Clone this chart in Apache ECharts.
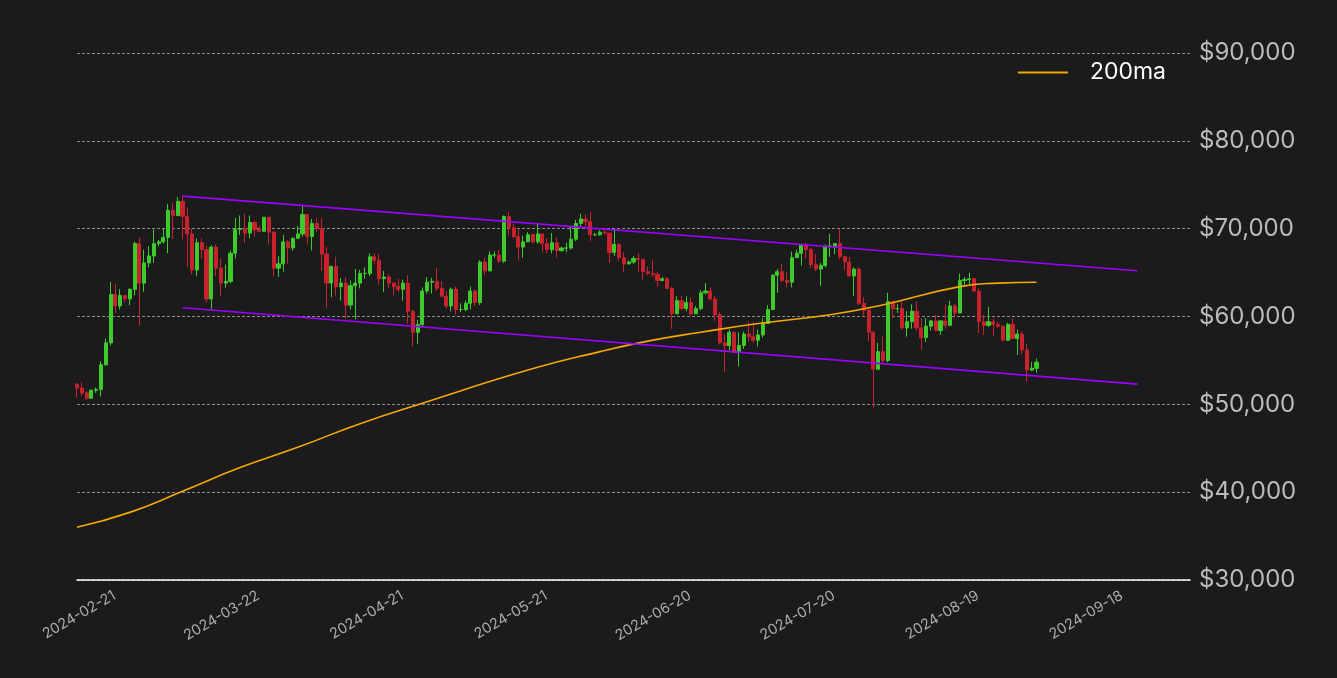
<!DOCTYPE html>
<html><head><meta charset="utf-8">
<script src="https://cdn.jsdelivr.net/npm/echarts@6/dist/echarts.min.js"></script>
<style>html,body{margin:0;background:#1b1b1b}#c{width:1337px;height:678px}</style>
</head><body><div id="c"></div>
<script>
const startDate = '2024-02-14';
const closes = [51.85,51.3,50.7,51.6,51.7,54.5,57.0,62.5,61.2,
62.4,62.0,63.1,68.3,63.8,66.1,66.9,68.3,68.5,69.0,72.1,71.5,73.1,71.4,69.4,65.3,68.4,67.6,62.0,67.9,65.5,63.8,64.0,67.2,69.9,70.0,69.5,70.7,69.9,69.7,71.3,
69.6,65.5,66.0,68.5,67.8,68.9,69.4,71.6,69.1,70.6,70.0,67.1,63.8,65.7,63.4,63.8,61.3,63.5,63.8,64.9,64.9,66.8,66.4,64.3,64.5,63.8,63.4,63.1,63.8,60.6,
58.2,59.1,62.9,63.9,64.0,63.2,62.3,61.2,63.1,60.8,60.8,61.5,62.9,61.6,66.2,65.2,67.0,67.0,66.3,71.4,70.1,69.1,67.9,68.5,69.3,68.5,69.4,68.3,67.6,68.4,67.5,
67.8,67.8,68.8,70.6,71.1,70.8,69.3,69.3,69.6,69.5,67.3,68.2,66.7,66.0,66.2,66.6,66.5,65.1,64.9,64.8,64.1,64.3,63.2,60.3,61.8,60.9,61.6,60.3,60.9,62.7,
62.9,62.0,60.2,57.0,56.7,58.2,55.9,56.7,58.0,57.7,57.3,57.9,59.2,60.8,64.7,65.1,64.1,63.9,66.7,67.2,68.2,67.6,65.9,65.4,65.8,68.0,68.0,68.3,66.8,66.2,64.6,
65.4,61.5,60.7,58.2,54.0,56.0,55.0,61.7,60.9,60.9,58.7,59.4,60.6,58.7,57.6,58.9,59.5,58.4,59.5,59.0,61.2,60.4,64.1,64.2,64.3,62.9,59.4,59.0,59.4,59.1,58.9,
57.3,59.1,57.5,58.0,56.2,53.9,54.1,54.8];
const highs = [52.4,52.5,51.5,51.7,51.9,54.9,57.5,63.9,63.7,
63.1,62.4,63.2,68.5,69.0,67.6,68.0,69.9,68.7,70.0,72.8,72.9,73.6,73.8,72.4,70.0,68.9,68.9,68.1,68.1,68.2,66.6,65.9,67.5,71.2,71.5,71.7,71.5,70.9,70.3,71.3,
71.3,69.7,66.9,69.3,68.7,69.0,70.3,72.7,71.7,71.1,71.2,71.2,67.9,65.8,66.8,64.4,64.5,64.1,65.4,65.3,65.6,67.2,67.2,67.1,65.2,64.8,63.9,64.3,64.2,64.7,
60.8,59.6,63.3,64.5,64.4,65.5,64.0,62.9,63.3,63.4,61.5,61.8,63.4,63.1,66.4,66.7,67.4,67.4,67.6,71.5,71.9,70.6,70.0,69.2,69.6,69.5,70.6,69.0,68.9,69.5,69.0,
67.9,68.4,70.2,71.0,71.7,71.6,71.9,69.5,69.8,70.1,69.5,69.9,68.4,67.3,66.4,66.9,67.2,66.5,65.7,66.4,65.1,64.5,64.5,63.4,62.3,62.4,62.3,62.2,61.2,63.0,
63.8,63.3,62.3,60.5,58.0,58.5,58.3,58.2,58.3,59.4,59.3,58.5,59.8,61.3,64.8,65.4,66.0,65.1,67.4,67.6,68.3,68.4,67.8,67.1,66.1,68.2,69.4,68.3,70.0,66.9,66.8,
65.6,65.6,62.2,61.1,58.3,57.0,57.7,62.7,61.8,61.4,61.8,60.6,61.4,61.7,59.8,59.8,59.6,60.2,59.6,61.4,61.8,61.4,64.9,64.5,65.0,64.4,63.2,60.2,61.1,59.8,59.4,
59.0,59.3,59.8,58.5,58.3,56.9,54.8,55.2];
const lows = [50.8,50.9,50.5,50.6,51.3,50.9,54.4,56.7,60.4,
60.8,61.6,61.3,62.4,59.0,62.8,65.6,66.1,68.0,68.3,67.2,68.8,71.4,68.8,65.6,64.8,64.6,66.6,61.6,60.8,64.6,62.3,63.3,63.8,66.6,69.3,68.4,68.9,69.1,69.6,69.6,
68.2,64.6,64.5,65.1,66.0,67.5,68.9,69.1,68.2,67.5,69.6,65.2,61.0,62.2,62.4,61.8,59.8,60.8,59.7,63.2,64.3,64.6,65.9,63.6,62.8,63.2,62.4,62.8,61.8,59.2,
56.6,56.9,58.8,62.6,62.6,62.9,62.2,60.9,60.6,60.2,60.5,60.6,60.8,61.2,61.3,64.7,65.1,66.7,66.1,66.1,69.2,68.9,66.4,66.7,68.6,68.3,68.3,67.3,67.2,67.2,66.7,
67.4,67.3,67.6,68.6,70.2,70.2,68.6,69.2,69.2,69.3,66.1,66.9,66.3,65.1,65.9,66.0,65.1,64.1,64.7,64.5,63.4,64.0,63.2,58.6,60.3,60.7,60.6,60.1,60.4,60.7,
62.5,61.8,59.5,56.8,53.7,56.1,55.8,54.3,56.3,57.2,57.0,56.6,57.6,59.5,60.7,62.7,63.9,63.3,63.3,66.7,65.8,66.6,65.5,65.2,63.5,65.6,66.8,67.1,66.5,65.3,64.6,
62.3,61.3,60.0,57.2,49.6,53.9,54.6,54.8,59.8,60.4,58.5,57.7,58.6,58.4,56.2,57.1,58.4,58.4,57.9,58.6,58.9,59.8,60.4,63.6,63.7,62.8,58.1,57.9,58.8,57.8,58.7,
57.2,57.2,57.4,55.6,55.7,52.6,53.8,53.6];
const firstOpen = 52.3;
const maDates = ['2024-02-14','2024-02-25','2024-03-07','2024-03-19','2024-03-31','2024-04-13','2024-04-27','2024-05-18','2024-06-02','2024-06-12','2024-06-23','2024-07-05','2024-07-20','2024-07-30','2024-08-16','2024-08-24','2024-09-01'];
const maValues = [36.0,37.7,40.1,42.8,45.1,47.8,50.3,53.9,56.0,57.2,58.2,59.2,60.2,61.2,63.4,63.8,63.9];
const upperLine = [['2024-03-07',73.7],['2024-09-22',65.2]];
const lowerLine = [['2024-03-07',61.0],['2024-09-22',52.3]];
const xTickDates = ['2024-02-21','2024-03-22','2024-04-21','2024-05-21','2024-06-20','2024-07-20','2024-08-19','2024-09-18'];

const DAY = 86400000;
const ts = s => Date.parse(s+'T00:00:00Z');
const t0 = ts(startDate);
const candles = closes.map((c,i)=>{
  const o = i===0 ? firstOpen : closes[i-1];
  return [t0 + i*DAY, o*1000, c*1000, lows[i]*1000, highs[i]*1000];
});
const maData = maDates.map((d,i)=>[ts(d), maValues[i]*1000]);

const chart = echarts.init(document.getElementById('c'));
chart.setOption({
  backgroundColor:'#1b1b1b',
  animation:false,
  grid:{left:77,right:147,top:53,bottom:98},
  legend:{top:56,right:166,itemWidth:50,itemHeight:2,icon:'rect',
    textStyle:{color:'#ffffff',fontSize:23,fontFamily:'Inter',padding:[0,0,0,17]},
    data:['200ma']},
  xAxis:{type:'value',min:t0,max:t0+232*DAY,
    axisLine:{show:true,lineStyle:{color:'#ffffff',width:1.5}},
    axisTick:{show:false},splitLine:{show:false},
    axisLabel:{rotate:30,color:'#aaaaaa',fontSize:14.5,fontFamily:'Inter',margin:8,
      verticalAlign:'top',customValues:xTickDates.map(ts),
      formatter:v=>new Date(v).toISOString().slice(0,10)}},
  yAxis:{type:'value',position:'right',min:30000,max:90000,interval:10000,
    axisLine:{show:false},axisTick:{show:false},
    splitLine:{lineStyle:{color:'#aaaaaa',type:[3,2],width:0.8}},
    axisLabel:{color:'#bbbbbb',fontSize:24,fontFamily:'Inter',margin:9,
      formatter:v=>'$'+v.toLocaleString('en-US')}},
  series:[
    {type:'candlestick',data:candles,barWidth:3.6,
      itemStyle:{color:'#3ccb2a',color0:'#c8222e',borderColor:'#3ccb2a',borderColor0:'#c8222e',borderWidth:1}},
    {name:'200ma',type:'line',data:maData,smooth:true,showSymbol:false,
      lineStyle:{color:'#f5a800',width:1.6},itemStyle:{color:'#f5a800'}},
    {type:'line',data:upperLine.map(p=>[ts(p[0]),p[1]*1000]),showSymbol:false,lineStyle:{color:'#9d00ff',width:1.6}},
    {type:'line',data:lowerLine.map(p=>[ts(p[0]),p[1]*1000]),showSymbol:false,lineStyle:{color:'#9d00ff',width:1.6}}
  ]
});
</script></body></html>
